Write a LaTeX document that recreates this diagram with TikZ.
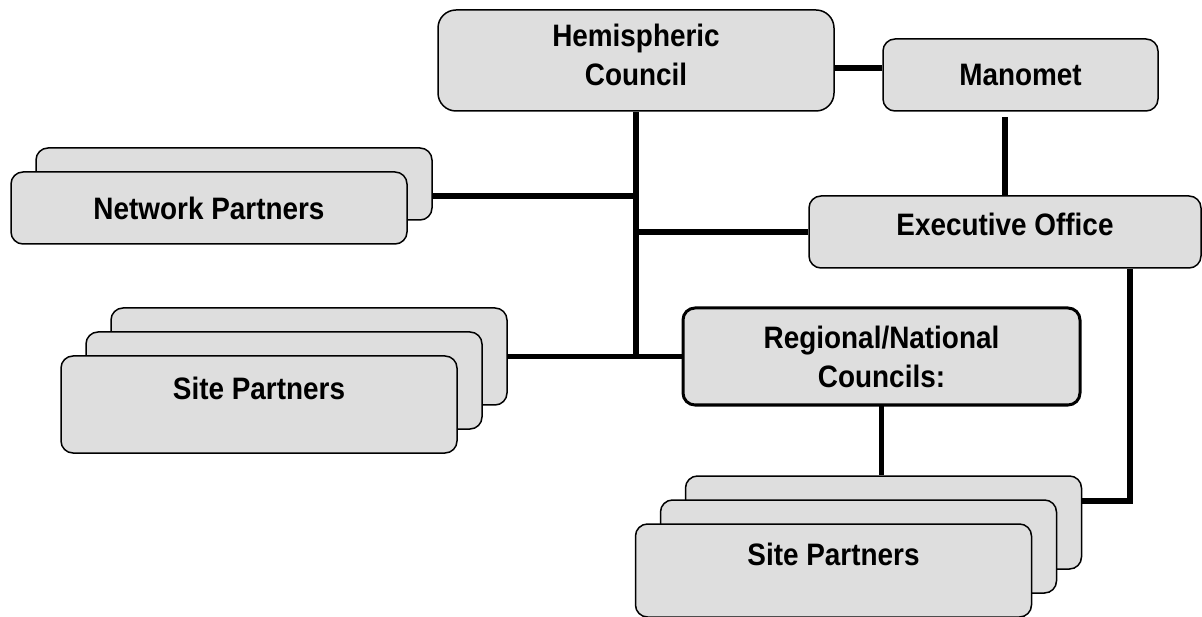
\documentclass[tikz,border=0pt]{standalone}
\usepackage{fontspec}
\setmainfont[BoldFont={Liberation Sans Bold},BoldFeatures={FakeStretch=0.9}]{Liberation Sans}
\usetikzlibrary{backgrounds}
\tikzset{unit/.style={rectangle,rounded corners=12pt,draw=black,line width=1.5pt,fill=black!13,align=center,font=\fontsize{31}{39}\selectfont\bfseries},
		link/.style={line width=5.5pt}}

\begin{document}
\begin{tikzpicture}[x=1pt,y=-1pt,
		council/.style={unit,rounded corners=18pt,minimum width=396pt,minimum height=101pt},
		office/.style={unit,minimum height=72pt},
		stack/.style={unit,minimum width=396pt,minimum height=97pt,text height=22pt,text depth=32pt}]
		\useasboundingbox (0,0) rectangle (1202,617);
		\node[council] (hemispheric-council) at (636,60.5) {Hemispheric\\Council\\[-27pt]};
		\node[office,minimum width=275pt] (manomet) at (1020.5,75) {Manomet};
		\node[office,minimum width=392pt,text depth=16pt] (executive-office) at (1005,232) {Executive Office};
		\node[office,minimum width=396pt] (network-partners) at (209,208) {Network Partners};
		\node[unit,minimum width=397pt,minimum height=97pt,line width=3pt] (regional-councils) at (881.5,356.5) {Regional/National\\Councils:};
		\node[stack] (site-left) at (259,404.5) {Site Partners};
		\node[stack,minimum height=93pt] (site-right) at (833.5,570.5) {Site Partners};
		
		\begin{scope}[on background layer]
		\node[office,minimum width=396pt,xshift=25pt,yshift=24pt] (network-back) at (network-partners) {};
		\node[stack,xshift=50pt,yshift=48pt] (site-left-back) at (site-left) {};
		\node[stack,xshift=25pt,yshift=24pt] (site-left-mid) at (site-left) {};
		\node[stack,minimum height=93pt,xshift=50pt,yshift=48pt] (site-right-back) at (site-right) {};
		\node[stack,minimum height=93pt,xshift=25pt,yshift=24pt] (site-right-mid) at (site-right) {};
		\end{scope}
		
		\coordinate (network-join) at ([yshift=-12pt]network-back.east);
		\coordinate (manomet-join) at ([yshift=7pt]manomet.west);
		\coordinate (manomet-gap) at ([yshift=-5pt]manomet.south);
		\coordinate (executive-drop) at ([xshift=125pt]executive-office.south);
		\coordinate (site-join) at ([yshift=21.5pt]site-right-back.east);
		
		\draw[link] (hemispheric-council.south) -- (hemispheric-council.south |- regional-councils.west);
		\draw[link] (site-left-back.east) -- (regional-councils.west);
		\draw[link] (network-join) -- (network-join -| hemispheric-council.south);
		\draw[link] (executive-office.west) -- (executive-office.west -| hemispheric-council.south);
		\draw[link] (manomet-join) -- (manomet-join -| hemispheric-council.east);
		\draw[link] (executive-office.north) -- (executive-office.north |- manomet-gap);
		\draw[link] (executive-drop) |- (site-join);
		\draw[link] (regional-councils.south) -- (regional-councils.south |- site-right-back.north);
	\end{tikzpicture}
\end{document}
